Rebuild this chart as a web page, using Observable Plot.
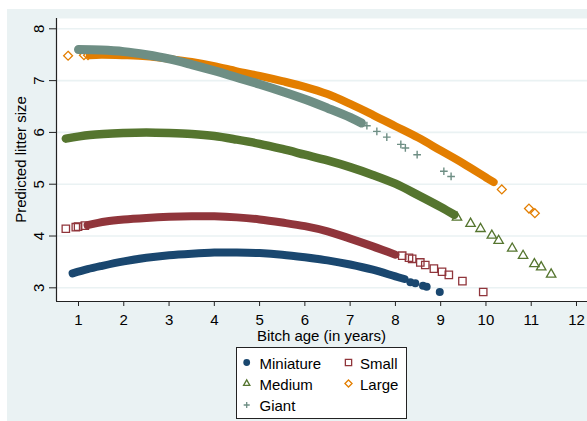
<!DOCTYPE html>
<html><head><meta charset="utf-8">
<script src="https://cdn.jsdelivr.net/npm/d3@7"></script>
<script src="https://cdn.jsdelivr.net/npm/@observablehq/plot@0.6"></script>
<style>
html,body{margin:0;padding:0;background:#fff;}
#wrap{position:relative;width:587px;height:421px;overflow:hidden;background:#fff;}
#bg{position:absolute;left:7px;top:9px;width:580px;height:412px;background:#eaf2f3;}
#chart{position:absolute;left:0;top:0;}
</style></head><body>
<div id="wrap"><div id="bg"></div><div id="chart"></div></div>
<script>
const seriesNames = ["Miniature", "Small", "Medium", "Large", "Giant"];
const seriesColors = ["#1a476f", "#90353b", "#55752f", "#e37e00", "#6e8e84"];
const seriesSymbols = ["circle", "square2", "triangle2", "diamond2", "plus"];
const xTicks = [1, 2, 3, 4, 5, 6, 7, 8, 9, 10, 11, 12];
const yTicks = [3, 4, 5, 6, 7, 8];
const xTitle = "Bitch age (in years)";
const yTitle = "Predicted litter size";

// dense part of each series
const miniatureBandAge = [0.87, 1.2, 1.5, 2.0, 2.5, 3.0, 3.5, 4.0, 4.5, 5.0, 5.5, 6.0, 6.5, 7.0, 7.5, 8.0, 8.2];
const miniatureBandSize = [3.28, 3.36, 3.42, 3.51, 3.58, 3.63, 3.66, 3.68, 3.68, 3.67, 3.64, 3.59, 3.53, 3.45, 3.35, 3.22, 3.17];
const miniatureTailAge = [8.33, 8.44, 8.61, 8.69, 8.98];
const miniatureTailSize = [3.11, 3.09, 3.04, 3.02, 2.92];

const smallBandAge = [1.2, 1.6, 2.0, 2.5, 3.0, 3.5, 4.0, 4.5, 5.0, 5.5, 6.0, 6.5, 7.0, 7.5, 8.0];
const smallBandSize = [4.21, 4.28, 4.32, 4.35, 4.37, 4.38, 4.38, 4.36, 4.32, 4.26, 4.19, 4.09, 3.95, 3.80, 3.64];
const smallTailAge = [0.72, 0.94, 0.99, 1.14, 8.15, 8.3, 8.37, 8.55, 8.66, 8.85, 9.03, 9.18, 9.48, 9.94];
const smallTailSize = [4.14, 4.17, 4.18, 4.20, 3.62, 3.58, 3.56, 3.49, 3.44, 3.37, 3.31, 3.25, 3.13, 2.92];

const mediumBandAge = [0.72, 1.25, 2.0, 2.5, 3.0, 3.5, 4.0, 4.5, 5.0, 5.5, 6.0, 6.5, 7.0, 7.5, 8.0, 8.5, 9.0, 9.3];
const mediumBandSize = [5.88, 5.95, 5.99, 6.00, 5.99, 5.97, 5.93, 5.86, 5.78, 5.68, 5.57, 5.46, 5.33, 5.18, 5.01, 4.79, 4.56, 4.41];
const mediumTailAge = [9.36, 9.66, 9.88, 10.13, 10.28, 10.58, 10.82, 11.07, 11.22, 11.44];
const mediumTailSize = [4.36, 4.24, 4.14, 4.01, 3.91, 3.76, 3.62, 3.46, 3.40, 3.26];

const largeBandAge = [1.25, 1.5, 2.0, 2.5, 3.0, 3.5, 4.0, 4.5, 5.0, 5.5, 6.0, 6.5, 7.0, 7.5, 8.0, 8.5, 9.0, 9.5, 10.0, 10.17];
const largeBandSize = [7.49, 7.50, 7.49, 7.47, 7.42, 7.36, 7.28, 7.18, 7.09, 6.99, 6.88, 6.74, 6.55, 6.34, 6.12, 5.90, 5.65, 5.40, 5.13, 5.04];
const largeTailAge = [0.77, 1.12, 1.21, 10.35, 10.95, 11.08];
const largeTailSize = [7.48, 7.49, 7.49, 4.90, 4.53, 4.44];

const giantBandAge = [1.0, 1.5, 2.0, 2.5, 3.0, 3.5, 4.0, 4.5, 5.0, 5.5, 6.0, 6.5, 7.0, 7.25];
const giantBandSize = [7.60, 7.59, 7.56, 7.50, 7.42, 7.31, 7.19, 7.06, 6.93, 6.79, 6.64, 6.47, 6.29, 6.18];
const giantTailAge = [7.37, 7.59, 7.81, 8.12, 8.22, 8.48, 9.07, 9.23];
const giantTailSize = [6.13, 6.02, 5.91, 5.77, 5.70, 5.57, 5.25, 5.15];

const bandAges = [miniatureBandAge, smallBandAge, mediumBandAge, largeBandAge, giantBandAge];
const bandSizes = [miniatureBandSize, smallBandSize, mediumBandSize, largeBandSize, giantBandSize];
const tailAges = [miniatureTailAge, smallTailAge, mediumTailAge, largeTailAge, giantTailAge];
const tailSizes = [miniatureTailSize, smallTailSize, mediumTailSize, largeTailSize, giantTailSize];

const toRows = (ages, sizes, name) => ages.map((a, i) => ({series: name, age: a, size: sizes[i]}));

const bandWidth = [8, 8, 8.5, 8, 9];
const dotR = [4, 4.7, 4.5, 4, 2.6];

const seriesMarks = [];
seriesNames.forEach((name, k) => {
  const band = toRows(bandAges[k], bandSizes[k], name);
  const tail = toRows(tailAges[k], tailSizes[k], name);
  seriesMarks.push(Plot.line(band, {
    x: "age", y: "size", stroke: seriesColors[k], strokeWidth: bandWidth[k],
    strokeLinecap: "round", strokeLinejoin: "round", curve: "catmull-rom"
  }));
  const filled = seriesSymbols[k] === "circle";
  seriesMarks.push(Plot.dot(tail, {
    x: "age", y: "size", symbol: seriesSymbols[k], r: dotR[k],
    fill: filled ? seriesColors[k] : "none",
    stroke: filled ? "none" : seriesColors[k],
    strokeWidth: k === 4 ? 1.4 : 1.3
  }));
});

const xMin = 0.514, xMax = 12.243, yMin = 2.736, yMax = 8.199;

const plot = Plot.plot({
  width: 587, height: 421,
  marginLeft: 56, marginTop: 18, marginRight: 0, marginBottom: 120,
  style: {background: "transparent", fontFamily: "'Liberation Sans', Arial, sans-serif", fontSize: "15px", color: "#000"},
  x: {domain: [xMin, xMax]},
  y: {domain: [yMin, yMax]},
  marks: [
    Plot.frame({fill: "white", stroke: null}),
    Plot.gridY(yTicks, {stroke: "#eaf2f3", strokeOpacity: 1, strokeWidth: 1.6}),
    Plot.axisX(xTicks, {tickSize: 5, tickPadding: 8, fontSize: 15, label: null, stroke: "#222", tickFormat: d => String(d)}),
    Plot.axisY(yTicks, {tickSize: 7, tickRotate: -90, tickPadding: 6, fontSize: 15, label: null, stroke: "#222", tickFormat: d => String(d)}),
    ...seriesMarks,
    Plot.ruleX([xMin], {stroke: "#222", strokeWidth: 1.2}),
    Plot.ruleY([yMin], {stroke: "#222", strokeWidth: 1.2})
  ]
});

const svg = d3.select(plot);
const font = "'Liberation Sans', Arial, sans-serif";
svg.append("text").attr("x", 321.5).attr("y", 340.5).attr("text-anchor", "middle")
  .attr("font-family", font).attr("font-size", 15).attr("fill", "#000").text(xTitle);
svg.append("text").attr("transform", "translate(26,159.5) rotate(-90)").attr("text-anchor", "middle")
  .attr("font-family", font).attr("font-size", 15).attr("fill", "#000").text(yTitle);

// legend
const d3Sym = {circle: d3.symbolCircle, square2: d3.symbolSquare2, triangle2: d3.symbolTriangle2, diamond2: d3.symbolDiamond2, plus: d3.symbolPlus};
const legSize = [36, 50, 28, 32, 14];
const legPos = [[246.7, 362.5, 259.5, 368.5], [348.5, 362.5, 360, 368.5], [246.7, 383.5, 259.5, 389.5], [348.5, 383.5, 360, 389.5], [246.7, 405, 259.5, 410.5]];
const lg = svg.append("g").attr("text-anchor", "start");
lg.append("rect").attr("x", 236.5).attr("y", 347.5).attr("width", 170).attr("height", 71)
  .attr("fill", "white").attr("stroke", "#222").attr("stroke-width", 1);
seriesNames.forEach((name, k) => {
  const [sx, sy, tx, ty] = legPos[k];
  const filled = seriesSymbols[k] === "circle";
  lg.append("path").attr("d", d3.symbol(d3Sym[seriesSymbols[k]], legSize[k])())
    .attr("transform", `translate(${sx},${sy})`)
    .attr("fill", filled ? seriesColors[k] : "none")
    .attr("stroke", filled ? "none" : seriesColors[k]).attr("stroke-width", 1.3);
  lg.append("text").attr("x", tx).attr("y", ty).attr("text-anchor", "start").attr("font-family", font).attr("font-size", 15)
    .attr("fill", "#000").text(name);
});

document.getElementById("chart").appendChild(plot);
</script>
</body></html>
